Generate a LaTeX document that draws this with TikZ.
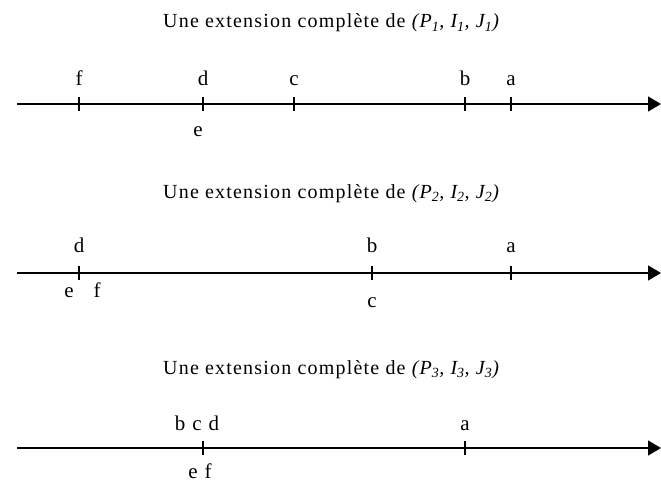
\documentclass[tikz,border=0pt]{standalone}
\usepackage{fontspec}
\setmainfont{Liberation Serif}
\usetikzlibrary{arrows.meta}
\tikzset{
  axis/.style={line width=1.3pt,-{Triangle[length=13pt,width=15pt]}},
  tick/.style={line width=1.2pt},
  lbl/.style={anchor=base,inner sep=0pt,font=\fontsize{21}{24}\selectfont\addfontfeatures{LetterSpace=8}},
  ttl/.style={anchor=base west,inner sep=0pt,font=\fontsize{20}{23}\selectfont\addfontfeatures{LetterSpace=6}},
}
\newcommand{\mysub}[1]{\textsubscript{#1}}
\begin{document}
\begin{tikzpicture}[x=1pt,y=-1pt]
\useasboundingbox (0,0) rectangle (661,484);
% ---------- axis 1
\node[ttl] (t1) at (163,28) {Une extension complète de \textit{(P\mysub{1}, I\mysub{1}, J\mysub{1})}};
\coordinate (s1) at (17,104);
\coordinate (e1) at (661,104);
\draw[axis] (s1) -- (e1);
\foreach \n/\x in {f/79,d/203,c/294,b/465,a/511}{
  \coordinate (k1\n) at (\x,104);
  \draw[tick] ([yshift=-7pt]k1\n) -- ([yshift=7pt]k1\n);
}
\node[lbl] (l1f) at (79,86) {f};
\node[lbl] (l1d) at (203,86) {d};
\node[lbl] (l1c) at (294,86) {c};
\node[lbl] (l1b) at (465,86) {b};
\node[lbl] (l1a) at (511,86) {a};
\node[lbl] (l1e) at (198,137) {e};
% ---------- axis 2
\node[ttl] (t2) at (163,198) {Une extension complète de \textit{(P\mysub{2}, I\mysub{2}, J\mysub{2})}};
\coordinate (s2) at (17,273);
\coordinate (e2) at (661,273);
\draw[axis] (s2) -- (e2);
\foreach \n/\x in {d/79,b/372,a/511}{
  \coordinate (k2\n) at (\x,273);
  \draw[tick] ([yshift=-7pt]k2\n) -- ([yshift=7pt]k2\n);
}
\node[lbl] (l2d) at (79,252) {d};
\node[lbl] (l2b) at (372,252) {b};
\node[lbl] (l2a) at (511,252) {a};
\node[lbl] (l2e) at (69,297) {e};
\node[lbl] (l2f) at (97,297) {f};
\node[lbl] (l2c) at (372,307) {c};
% ---------- axis 3
\node[ttl] (t3) at (163,374) {Une extension complète de \textit{(P\mysub{3}, I\mysub{3}, J\mysub{3})}};
\coordinate (s3) at (17,448);
\coordinate (e3) at (661,448);
\draw[axis] (s3) -- (e3);
\foreach \n/\x in {d/203,a/465}{
  \coordinate (k3\n) at (\x,448);
  \draw[tick] ([yshift=-7pt]k3\n) -- ([yshift=7pt]k3\n);
}
\node[lbl] (l3bcd) at (197,430) {b c d};
\node[lbl] (l3a) at (465,430) {a};
\node[lbl] (l3ef) at (200,478) {e f};
\end{tikzpicture}
\end{document}
